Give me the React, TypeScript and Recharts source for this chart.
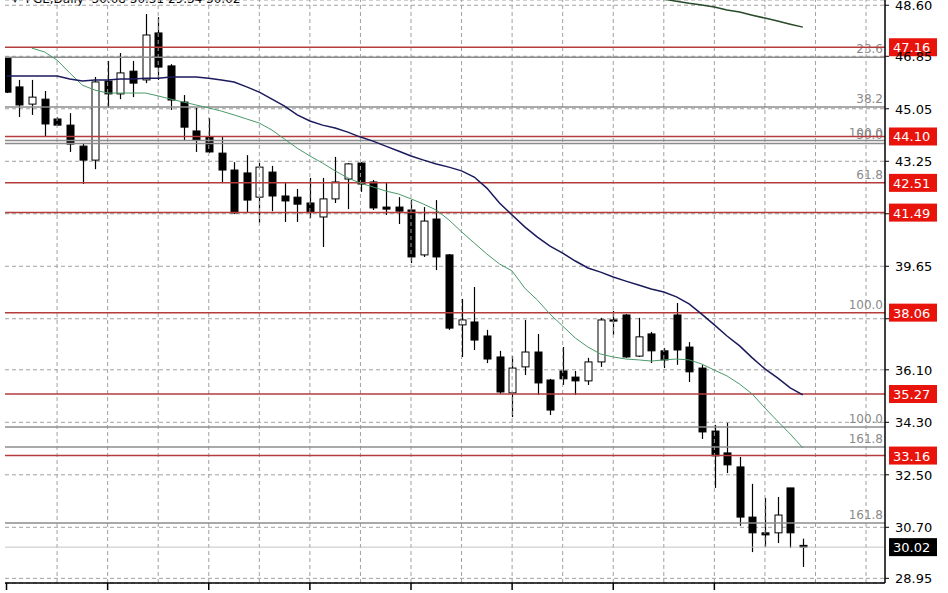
import React from 'react';
import { ComposedChart, Bar, Line, XAxis, YAxis, CartesianGrid, ReferenceLine } from 'recharts';

// PGE daily candles
const opens = [46.79, 45.80, 45.21, 45.38, 44.70, 44.49, 43.77, 43.29, 46.00, 45.56, 46.34, 46.04, 47.65, 46.52, 45.28, 44.29, 44.08, 43.53, 42.95, 42.85, 42.02, 42.88, 42.06, 42.02, 41.82, 41.34, 41.96, 42.64, 43.19, 42.54, 41.68, 41.68, 41.58, 40.04, 41.27, 40.04, 37.64, 37.74, 37.26, 36.54, 35.31, 36.20, 36.71, 35.75, 36.06, 35.85, 35.72, 36.37, 37.81, 37.98, 36.57, 37.33, 36.75, 37.98, 36.88, 36.16, 34.00, 33.25, 32.77, 31.05, 30.51, 30.51, 32.05, 30.08];
const highs = [46.82, 46.04, 46.04, 45.66, 44.77, 44.90, 43.88, 46.14, 46.69, 46.96, 46.69, 48.30, 48.19, 46.58, 45.52, 45.08, 44.73, 44.08, 43.22, 43.46, 43.19, 43.09, 42.54, 42.30, 42.68, 42.68, 43.40, 43.19, 43.22, 42.61, 42.54, 42.02, 41.92, 41.68, 41.92, 40.07, 38.53, 38.94, 37.47, 36.75, 36.57, 37.81, 37.33, 35.79, 36.88, 36.06, 36.51, 37.88, 38.12, 38.01, 37.88, 37.40, 36.85, 38.39, 37.05, 36.27, 34.21, 34.28, 33.11, 32.19, 31.71, 31.74, 32.05, 30.31];
const lows = [45.59, 44.77, 44.84, 44.08, 44.46, 43.57, 42.47, 42.98, 45.08, 45.38, 45.45, 45.93, 46.04, 45.01, 43.98, 43.57, 43.53, 42.50, 41.44, 41.48, 41.13, 41.54, 41.17, 41.17, 41.30, 40.31, 41.82, 41.61, 42.20, 41.58, 41.41, 41.10, 39.76, 39.97, 39.52, 37.47, 36.54, 36.78, 36.33, 35.27, 34.48, 35.92, 35.24, 34.55, 35.58, 35.24, 35.58, 36.20, 37.29, 36.51, 36.54, 36.33, 36.16, 36.27, 35.68, 33.73, 32.05, 32.56, 30.75, 29.85, 30.03, 30.16, 29.99, 29.34];
const closes = [45.62, 45.18, 45.45, 44.53, 44.49, 43.84, 43.29, 45.97, 45.56, 46.28, 45.93, 47.58, 46.48, 45.35, 44.42, 43.98, 43.57, 42.95, 41.48, 41.92, 43.05, 42.06, 41.89, 41.78, 41.51, 41.96, 42.54, 43.16, 42.47, 41.65, 41.61, 41.54, 39.97, 41.20, 39.97, 37.53, 37.81, 37.12, 36.47, 35.34, 36.16, 36.71, 35.65, 34.72, 35.79, 35.72, 36.37, 37.81, 37.77, 36.54, 37.23, 36.75, 36.44, 36.78, 36.03, 33.97, 33.15, 32.84, 31.05, 30.51, 30.44, 31.12, 30.51, 30.02];

// moving averages
const maFast = [null, null, 47.13, 47.00, 46.72, 46.28, 45.86, 45.69, 45.59, 45.59, 45.59, 45.59, 45.49, 45.38, 45.28, 45.18, 45.08, 44.97, 44.84, 44.70, 44.56, 44.32, 44.01, 43.70, 43.43, 43.19, 42.92, 42.68, 42.50, 42.37, 42.23, 42.13, 41.96, 41.78, 41.58, 41.24, 40.83, 40.45, 40.07, 39.73, 39.49, 38.90, 38.49, 38.01, 37.60, 37.19, 36.88, 36.64, 36.54, 36.47, 36.44, 36.40, 36.44, 36.47, 36.44, 36.30, 36.09, 35.89, 35.61, 35.27, 34.79, 34.34, 33.90, 33.42];
const maMid = [46.17, 46.17, 46.17, 46.17, 46.17, 46.07, 46.00, 46.04, 46.04, 46.07, 46.07, 46.10, 46.10, 46.14, 46.14, 46.14, 46.10, 46.04, 45.97, 45.80, 45.62, 45.38, 45.14, 44.84, 44.63, 44.49, 44.39, 44.25, 44.08, 43.94, 43.77, 43.60, 43.43, 43.29, 43.16, 43.05, 42.92, 42.71, 42.33, 41.82, 41.41, 41.00, 40.65, 40.34, 40.10, 39.83, 39.59, 39.45, 39.28, 39.14, 39.01, 38.87, 38.77, 38.60, 38.36, 38.01, 37.64, 37.26, 36.92, 36.51, 36.13, 35.82, 35.48, 35.24];
const maSlowStart = 50;
const maSlow = [48.95, 48.88, 48.81, 48.74, 48.67, 48.61, 48.54, 48.44, 48.37, 48.26, 48.16, 48.06, 47.95, 47.85];

const yTicks = [48.6, 46.85, 45.05, 43.25, 41.45, 39.65, 37.85, 36.1, 34.3, 32.5, 30.7, 28.95];
const xTicks = [0, 8, 16, 24, 32, 40, 48, 56];
const gridCols = [4, 8, 12, 16, 20, 24, 28, 32, 36, 40, 44, 48, 52, 56, 60, 64, 68];

const redLevels = [47.16, 44.1, 42.51, 41.49, 38.06, 35.27, 33.16];
const redFibTexts = ['', '', '61.8', '', '100.0', '', ''];
const fibLevels = [46.82, 45.11, 43.96, 43.86, 34.14, 33.45, 30.85];
const fibTexts = ['23.6', '38.2', '100.0', '50.0', '100.0', '161.8', '161.8'];
const lastPrice = 30.02;

const rows = opens.map((o, i) => ({
  i,
  open: o,
  high: highs[i],
  low: lows[i],
  close: closes[i],
  range: [lows[i], highs[i]],
  fast: maFast[i],
  mid: maMid[i],
  slow: i >= maSlowStart ? maSlow[i - maSlowStart] : null,
}));

const FONT = '"DejaVu Sans", Verdana, sans-serif';

function Candle(props: any) {
  const { x, y, width, height, payload } = props;
  const { open, close, high, low } = payload;
  const top = Math.min(y, y + height);
  const h = Math.abs(height);
  const px = (v: number) => top + (high === low ? 0 : ((high - v) / (high - low)) * h);
  const cx = Math.round(x + width / 2) + 0.5;
  const bTop = px(Math.max(open, close));
  const bBot = px(Math.min(open, close));
  const up = close >= open;
  return (
    <g>
      <line x1={cx} x2={cx} y1={top} y2={top + h} stroke="#000" strokeWidth={1.2} />
      <rect
        x={cx - 3.5}
        y={bTop}
        width={7}
        height={Math.max(bBot - bTop, 1)}
        fill={up ? '#fff' : '#000'}
        stroke="#000"
        strokeWidth={1}
      />
    </g>
  );
}

function PriceTag(props: any) {
  const { viewBox, text, color, fib } = props;
  if (!viewBox) return null;
  const right = viewBox.x + viewBox.width;
  const y = viewBox.y;
  return (
    <g>
      {fib ? (
        <text x={right - 2} y={y - 4} textAnchor="end" fill="#8a8a8a" fontSize={12} fontFamily={FONT}>
          {fib}
        </text>
      ) : null}
      <rect x={right + 4} y={y - 9} width={48} height={18} fill={color} />
      <text x={right + 8} y={y + 5} fill="#fff" fontSize={13} fontFamily={FONT}>
        {text}
      </text>
    </g>
  );
}

function FibLabel(props: any) {
  const { viewBox, text } = props;
  if (!viewBox || !text) return null;
  return (
    <text x={viewBox.x + viewBox.width - 2} y={viewBox.y - 4} textAnchor="end" fill="#8a8a8a" fontSize={12} fontFamily={FONT}>
      {text}
    </text>
  );
}

function PriceTick(props: any) {
  const { x, y, payload } = props;
  const tagged = [...redLevels, lastPrice];
  if (tagged.some((t) => Math.abs(t - payload.value) < 0.3)) return null;
  return (
    <text x={x} y={y + 5} fill="#000" fontSize={13} fontFamily={FONT}>
      {payload.value.toFixed(2)}
    </text>
  );
}

export default function App() {
  return (
    <div style={{ position: 'absolute', left: 0, top: 0, width: 948, height: 593, background: '#fff', overflow: 'hidden' }}>
      <div
        style={{
          position: 'absolute',
          left: 12,
          top: -8,
          fontSize: 12,
          lineHeight: '15px',
          fontFamily: FONT,
          color: '#000',
          whiteSpace: 'pre',
        }}
      >
        {'▾  PGE,Daily  30.08 30.31 29.34 30.02'}
      </div>
      <ComposedChart width={948} height={593} data={rows} margin={{ top: 0, right: 0, bottom: 0, left: 5 }}>
        <CartesianGrid vertical={false} stroke="#a0a0a0" strokeDasharray="4 3" />
        {gridCols.map((c) => (
          <ReferenceLine key={'gc' + c} x={c} stroke="#a0a0a0" strokeDasharray="4 3" />
        ))}
        <XAxis
          type="number"
          dataKey="i"
          domain={[-0.12, 69.5]}
          allowDataOverflow
          ticks={xTicks}
          tick={() => <g />}
          tickSize={7}
          height={10}
          axisLine={{ stroke: '#000', strokeWidth: 1.5 }}
          tickLine={{ stroke: '#000', strokeWidth: 1.5 }}
        />
        <YAxis
          orientation="right"
          width={63}
          domain={[28.79, 48.78]}
          allowDataOverflow
          ticks={yTicks}
          interval={0}
          tickSize={4}
          tickMargin={6}
          tick={<PriceTick />}
          axisLine={{ stroke: '#000', strokeWidth: 1.5 }}
          tickLine={{ stroke: '#000' }}
        />
        <YAxis
          yAxisId="frame"
          orientation="left"
          width={0}
          tick={false}
          tickLine={false}
          axisLine={{ stroke: '#000', strokeWidth: 1.5 }}
        />
        <Bar dataKey="range" barSize={7} shape={(p: any) => <Candle {...p} />} isAnimationActive={false} />
        {fibLevels.map((v, k) => (
          <ReferenceLine key={'fib' + k} y={v} stroke="#8c8c8c" strokeWidth={1.5} label={<FibLabel text={fibTexts[k]} />} />
        ))}
        <ReferenceLine y={lastPrice} stroke="#c4c4c4" strokeWidth={1} label={<PriceTag text={lastPrice.toFixed(2)} color="#000" />} />
        {redLevels.map((v, k) => (
          <ReferenceLine
            key={'red' + k}
            y={v}
            stroke="#b43c3c"
            strokeWidth={1.5}
            label={<PriceTag text={v.toFixed(2)} color="#e8140c" fib={redFibTexts[k]} />}
          />
        ))}
        <Line dataKey="fast" stroke="#4a9a6a" strokeWidth={1} dot={false} isAnimationActive={false} />
        <Line dataKey="mid" stroke="#1a1a5c" strokeWidth={1.5} dot={false} isAnimationActive={false} />
        <Line dataKey="slow" stroke="#284a28" strokeWidth={1.5} dot={false} isAnimationActive={false} />
      </ComposedChart>
    </div>
  );
}
